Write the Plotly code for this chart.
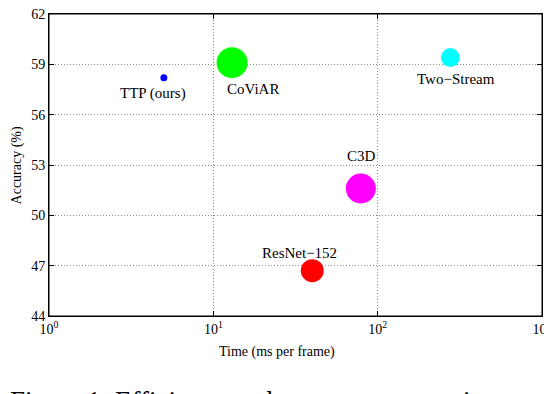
import math
import plotly.graph_objects as go

# methods, time per frame (ms) and accuracy (%)
methods = ["TTP (ours)", "CoViAR", "Two\u2212Stream", "C3D", "ResNet\u2212152"]
time_ms = [5.0, 13.0, 277.0, 79.0, 40.0]
accuracy = [58.2, 59.1, 59.4, 51.6, 46.7]
bubble_size = [7, 31, 19, 30, 23]
colors = ["#0000ff", "#00ff00", "#00ffff", "#ff00ff", "#ff0000"]

x_ticks = [1, 10, 100, 1000]
x_ticktext = ["10<sup>0</sup>", "10<sup>1</sup>", "10<sup>2</sup>", "10<sup>3</sup>"]
y_ticks = [44, 47, 50, 53, 56, 59, 62]

# label offsets (px) relative to each bubble
label_dx = [-11, 21, 6, 1, -13]
label_dy = [-16, -26, -21, 32, 18]

font = "Liberation Serif, Times New Roman, serif"

fig = go.Figure()
fig.add_trace(go.Scatter(
    x=time_ms, y=accuracy, mode="markers",
    marker=dict(size=bubble_size, color=colors, line=dict(width=0), opacity=1),
    hoverinfo="text", text=methods, showlegend=False,
))

# annotations on a log axis take log10 positions
for name, x, y, dx, dy in zip(methods, time_ms, accuracy, label_dx, label_dy):
    fig.add_annotation(x=math.log10(x), y=y, xref="x", yref="y", text=name, showarrow=False,
                       xshift=dx, yshift=dy, font=dict(size=15, color="black", family=font))

fig.add_annotation(x=(277 - 49) / (542 - 49), y=-0.119, xref="paper", yref="paper",
                   xanchor="center", yanchor="middle",
                   text="Time (ms per frame)", showarrow=False,
                   font=dict(size=14, color="black", family=font))
fig.add_annotation(xref="paper", yref="paper", x=-0.064, y=0.5, xanchor="center", yanchor="middle",
                   text="Accuracy (%)", textangle=-90, showarrow=False,
                   font=dict(size=14, color="black", family=font))
fig.add_annotation(xref="paper", yref="paper", x=-0.083, y=-0.225, xanchor="left", yanchor="top",
                   text="Figure 1: Efficiency and accuracy comparison",
                   showarrow=False, font=dict(size=27, color="black", family=font))

# frame around the plot area
fig.add_shape(type="rect", xref="paper", yref="paper", x0=0, y0=0, x1=1, y1=1,
              line=dict(color="black", width=1), layer="above")

axis_common = dict(
    showline=True, linecolor="black", linewidth=1, mirror="allticks",
    ticks="inside", ticklen=5, tickcolor="black", automargin=False,
    ticklabeloverflow="allow",
    showgrid=True, gridcolor="#888888", griddash="1px,2px", gridwidth=1,
    zeroline=False, tickfont=dict(size=14, color="black", family=font),
)

# page body has an 8px margin, so the figure is 8px smaller and offset
fig.update_layout(
    width=544, height=386,
    margin=dict(l=41, r=10, t=6, b=78, autoexpand=False),
    paper_bgcolor="white", plot_bgcolor="white",
    xaxis=dict(type="log", range=[0, 3], tickvals=x_ticks, ticktext=x_ticktext, **axis_common),
    yaxis=dict(range=[44, 62], tickvals=y_ticks, **axis_common),
)

fig.write_html("out.html")
